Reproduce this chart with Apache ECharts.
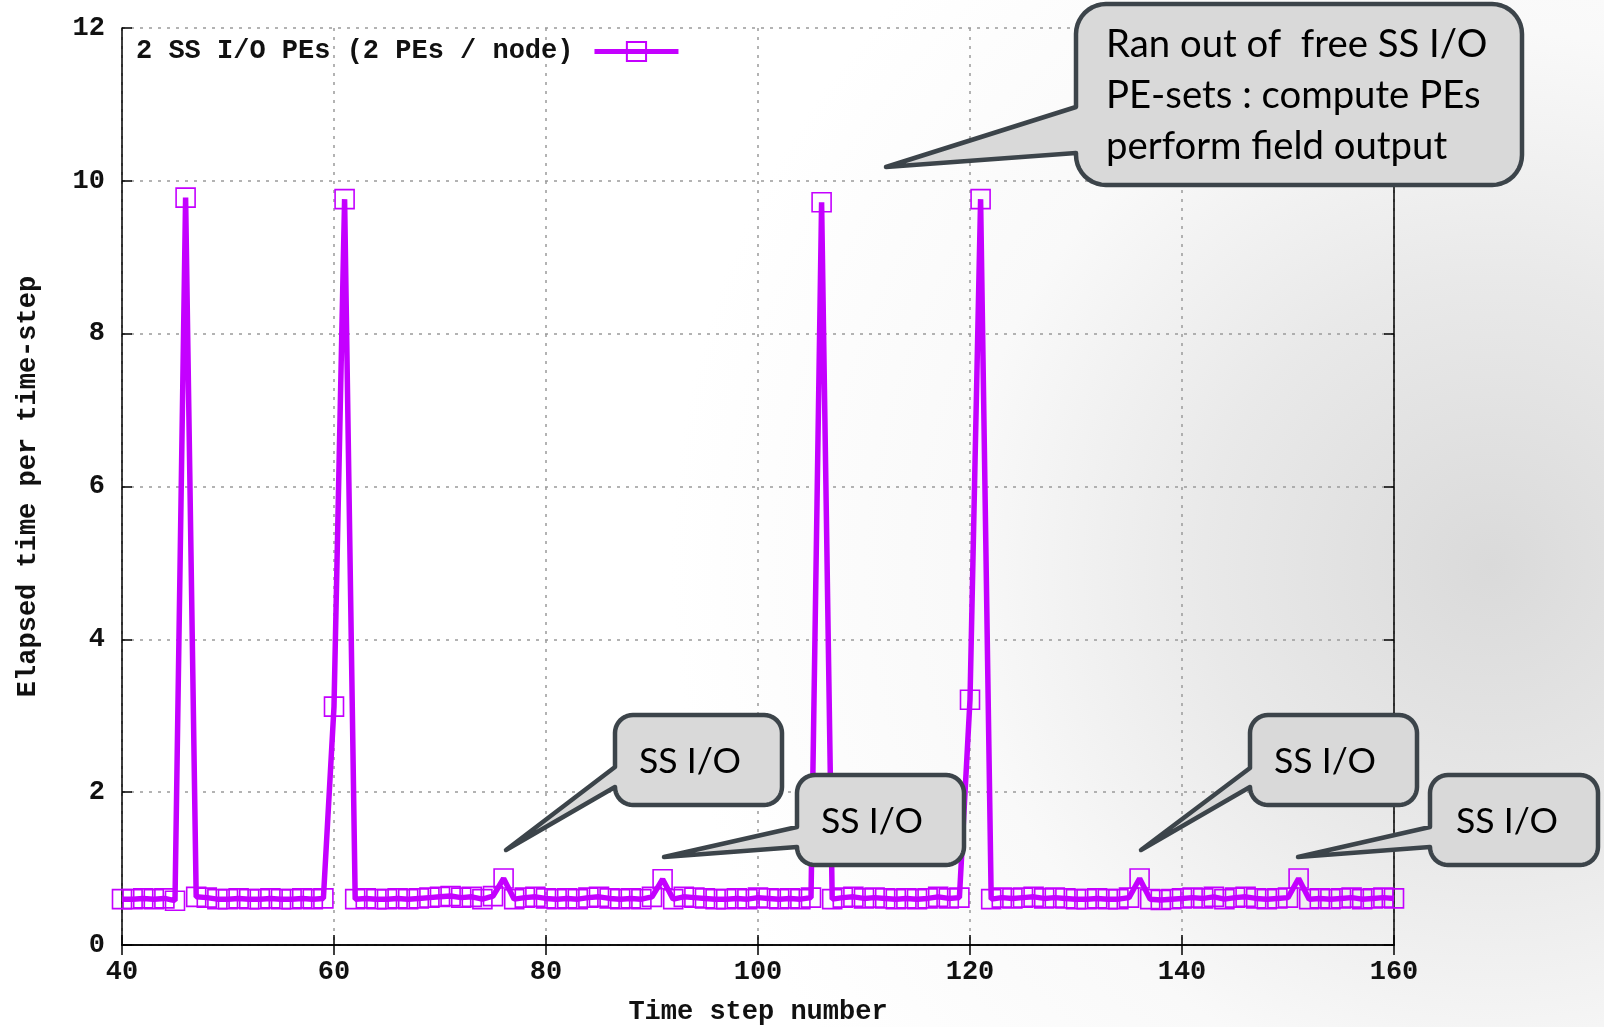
<!DOCTYPE html>
<html>
<head>
<meta charset="utf-8">
<script src="https://cdn.jsdelivr.net/npm/echarts/dist/echarts.min.js"></script>
<style>
html,body{margin:0;padding:0;background:#fff;}
#chart{width:1604px;height:1027px;}
</style>
</head>
<body>
<div id="chart"></div>
<script>
// ---- data ----
const seriesName = '2 SS I/O PEs (2 PEs / node)';
const timeSteps = [40,41,42,43,44,45,46,47,48,49,50,51,52,53,54,55,56,57,58,59,
  60,61,62,63,64,65,66,67,68,69,70,71,72,73,74,75,76,77,78,79,
  80,81,82,83,84,85,86,87,88,89,90,91,92,93,94,95,96,97,98,99,
  100,101,102,103,104,105,106,107,108,109,110,111,112,113,114,115,116,117,118,119,
  120,121,122,123,124,125,126,127,128,129,130,131,132,133,134,135,136,137,138,139,
  140,141,142,143,144,145,146,147,148,149,150,151,152,153,154,155,156,157,158,159,160];
const elapsed = [0.60,0.60,0.61,0.60,0.61,0.58,9.78,0.63,0.62,0.60,0.60,0.61,0.60,0.60,0.61,0.60,0.60,0.61,0.60,0.61,
  3.12,9.76,0.60,0.61,0.60,0.60,0.61,0.60,0.61,0.62,0.63,0.64,0.62,0.63,0.60,0.64,0.87,0.60,0.62,0.63,
  0.61,0.60,0.61,0.60,0.62,0.63,0.61,0.60,0.61,0.60,0.63,0.86,0.60,0.63,0.62,0.61,0.60,0.60,0.61,0.60,
  0.62,0.61,0.60,0.61,0.60,0.62,9.72,0.60,0.62,0.63,0.61,0.62,0.61,0.60,0.61,0.60,0.61,0.63,0.61,0.62,
  3.21,9.76,0.60,0.62,0.61,0.62,0.63,0.61,0.62,0.61,0.60,0.60,0.61,0.60,0.60,0.62,0.87,0.60,0.59,0.60,
  0.61,0.62,0.61,0.63,0.60,0.62,0.63,0.61,0.60,0.61,0.62,0.87,0.60,0.61,0.60,0.61,0.62,0.60,0.61,0.62,0.61];
const xTicks = [40,60,80,100,120,140,160];
const yTicks = [0,2,4,6,8,10,12];
const xTitle = 'Time step number';
const yTitle = 'Elapsed time per time-step';
const bigNote = ['Ran out of  free SS I/O', 'PE-sets : compute PEs', 'perform field output'];
const smallNote = 'SS I/O';

// ---- styles ----
const MONO = 'Liberation Mono';
const NOTE_FONT = 'Lato';
const VIOLET = '#c400ff';

function noteFontSize(text, targetWidth) {
  const c = document.createElement('canvas').getContext('2d');
  c.font = '100px ' + NOTE_FONT;
  return 100 * targetWidth / c.measureText(text).width;
}

function calloutPoints(x0, y0, x1, y1, r, ya, yb, tx, ty) {
  const pts = [];
  const arc = (cx, cy, a0, a1) => {
    const n = 10;
    for (let i = 0; i <= n; i++) {
      const a = a0 + (a1 - a0) * i / n;
      pts.push([cx + r * Math.cos(a), cy + r * Math.sin(a)]);
    }
  };
  const P = Math.PI;
  arc(x1 - r, y0 + r, -P / 2, 0);
  arc(x1 - r, y1 - r, 0, P / 2);
  arc(x0 + r, y1 - r, P / 2, P);
  pts.push([x0, yb]);
  pts.push([tx, ty]);
  pts.push([x0, ya]);
  arc(x0 + r, y0 + r, P, 1.5 * P);
  return pts;
}

const calloutStyle = { fill: '#d9d9d9', stroke: '#3c444a', lineWidth: 4.5, lineJoin: 'round' };

const graphics = [
  {
    type: 'rect', z: -10, silent: true,
    shape: { x: 0, y: 0, width: 1604, height: 1027 },
    style: { fill: { type: 'radial', x: 0.93, y: 0.55, r: 0.8,
      colorStops: [{offset: 0, color: '#dadada'}, {offset: 0.35, color: '#e9e9e9'},
                   {offset: 0.65, color: '#f9f9f9'}, {offset: 1, color: '#ffffff'}] } }
  }
];

function addCallout(box, r, ya, yb, tip, lines, textX, textYs, size) {
  graphics.push({
    type: 'polygon', z: 100, silent: true,
    shape: { points: calloutPoints(box[0], box[1], box[2], box[3], r, ya, yb, tip[0], tip[1]) },
    style: calloutStyle
  });
  lines.forEach((t, i) => {
    graphics.push({
      type: 'text', z: 101, silent: true, x: textX, y: textYs[i],
      style: { text: t, fill: '#000', font: size.toFixed(1) + 'px ' + NOTE_FONT,
               textAlign: 'left', textVerticalAlign: 'middle' }
    });
  });
}

const bigSize = noteFontSize(bigNote[0], 381);
const smallSize = noteFontSize(smallNote, 102);
addCallout([1076, 4, 1522, 185], 30, 107, 153, [886, 167], bigNote, 1106, [45, 96, 147], bigSize);
addCallout([615, 715, 782, 805], 18, 767, 787, [506, 850], [smallNote], 639, [762], smallSize);
addCallout([797, 775, 964, 865], 18, 827, 847, [664, 857], [smallNote], 821, [822], smallSize);
addCallout([1250, 715, 1417, 805], 18, 768, 787, [1141, 850], [smallNote], 1274, [762], smallSize);
addCallout([1430, 775, 1598, 865], 18, 827, 847, [1298, 857], [smallNote], 1456, [822], smallSize);

const chart = echarts.init(document.getElementById('chart'), null, { renderer: 'canvas' });

const axisLineStyle = { color: '#000', width: 1.5 };
const gridLineStyle = { color: '#9a9a9a', width: 1.5, type: [3, 6] };
const labelStyle = { fontFamily: MONO, fontSize: 27, fontWeight: 'bold', color: '#111' };

chart.setOption({
  backgroundColor: 'transparent',
  animation: false,
  grid: { left: 122, right: 210, top: 28, bottom: 82, containLabel: false, outerBoundsMode: 'none' },
  legend: {
    show: true, left: 136, top: 38, padding: 0, align: 'right',
    itemWidth: 84, itemHeight: 24,
    lineStyle: { width: 5, color: VIOLET },
    textStyle: { fontFamily: MONO, fontSize: 27, fontWeight: 'bold', color: '#111', padding: [0, 16, 0, 0] },
    data: [seriesName]
  },
  xAxis: [
    {
      type: 'value', min: 40, max: 160, interval: 20, position: 'bottom',
      name: xTitle, nameLocation: 'middle', nameGap: 54,
      nameTextStyle: labelStyle,
      axisLine: { show: true, onZero: false, lineStyle: axisLineStyle },
      axisTick: { show: true, inside: true, length: 10, lineStyle: axisLineStyle },
      axisLabel: Object.assign({ margin: 14, formatter: v => xTicks.includes(v) ? String(v) : '' }, labelStyle),
      splitLine: { show: true, lineStyle: gridLineStyle }
    },
    {
      type: 'value', min: 40, max: 160, interval: 20, position: 'top',
      axisLine: { show: true, lineStyle: axisLineStyle },
      axisTick: { show: true, inside: true, length: 10, lineStyle: axisLineStyle },
      axisLabel: { show: false }, splitLine: { show: false }
    }
  ],
  yAxis: [
    {
      type: 'value', min: 0, max: 12, interval: 2, position: 'left',
      name: yTitle, nameLocation: 'middle', nameGap: 80, nameRotate: 90,
      nameTextStyle: labelStyle,
      axisLine: { show: true, onZero: false, lineStyle: axisLineStyle },
      axisTick: { show: true, inside: true, length: 10, lineStyle: axisLineStyle },
      axisLabel: Object.assign({ margin: 17, formatter: v => yTicks.includes(v) ? String(v) : '' }, labelStyle),
      splitLine: { show: true, lineStyle: gridLineStyle }
    },
    {
      type: 'value', min: 0, max: 12, interval: 2, position: 'right',
      axisLine: { show: true, lineStyle: axisLineStyle },
      axisTick: { show: true, inside: true, length: 10, lineStyle: axisLineStyle },
      axisLabel: { show: false }, splitLine: { show: false }
    }
  ],
  series: [{
    name: seriesName,
    type: 'line',
    data: timeSteps.map((t, i) => [t, elapsed[i]]),
    xAxisIndex: 0, yAxisIndex: 0,
    clip: false,
    symbol: 'rect', symbolSize: 19, showAllSymbol: true,
    lineStyle: { color: VIOLET, width: 5.5 },
    itemStyle: { color: 'transparent', borderColor: VIOLET, borderWidth: 1.6 },
    emphasis: { disabled: true },
    z: 5
  }],
  graphic: graphics
});
</script>
</body>
</html>
